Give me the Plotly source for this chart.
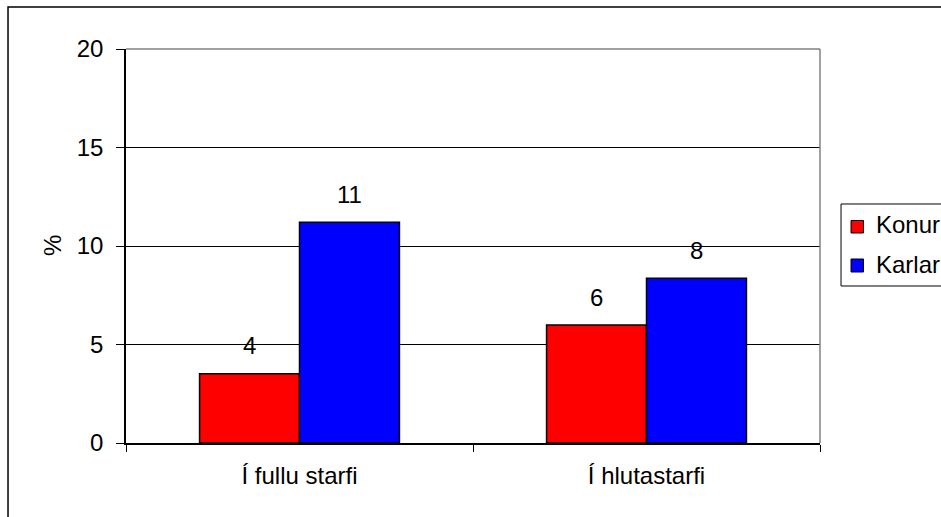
import plotly.graph_objects as go

categories = ["Í fullu starfi", "Í hlutastarfi"]
series_names = ["Konur", "Karlar"]
konur = [3.52, 5.99]
karlar = [11.2, 8.36]
colors = ["#FF0000", "#0000FF"]
y_ticks = [0, 5, 10, 15, 20]

FONT = "Liberation Sans, Arial, sans-serif"
FS = 24

fig = go.Figure()
for i, (name, vals) in enumerate(zip(series_names, [konur, karlar])):
    fig.add_trace(go.Bar(
        x=categories, y=vals, name=name,
        marker=dict(color=colors[i], line=dict(color="#000000", width=1.5)),
        showlegend=False,
    ))

annotations = []
for i, vals in enumerate([konur, karlar]):
    shift = -50 if i == 0 else 50
    for c, v in zip(categories, vals):
        annotations.append(dict(
            x=c, y=v, xref="x", yref="y", text=f"{v:.0f}", showarrow=False,
            xshift=shift, yshift=28, yanchor="middle",
            font=dict(family=FONT, size=FS, color="#000000"),
        ))
annotations.append(dict(
    x=-0.1066, y=0.5, xref="paper", yref="paper", text="%", showarrow=False,
    textangle=-90, font=dict(family=FONT, size=FS, color="#000000"),
    xanchor="center", yanchor="middle",
))

# manual legend (the reference legend runs off the right edge)
legend_sq_y = [(0.533, 0.5647), (0.434, 0.467)]
legend_txt_y = [0.5558, 0.4525]
shapes = [
    # outer chart border (extends past right and bottom)
    dict(type="rect", xref="paper", yref="paper", x0=-0.170, x1=1.5, y0=-0.5, y1=1.1066,
         line=dict(color="#000000", width=1.5), layer="below"),
    # plot area top and right border (gray)
    dict(type="line", xref="paper", yref="paper", x0=0, x1=1, y0=1, y1=1,
         line=dict(color="#808080", width=1.5), layer="above"),
    dict(type="line", xref="paper", yref="paper", x0=1, x1=1, y0=0, y1=1,
         line=dict(color="#808080", width=1.5), layer="above"),
    # legend box
    dict(type="rect", xref="paper", yref="paper", x0=1.0303, x1=1.4, y0=0.3985, y1=0.6066,
         line=dict(color="#000000", width=1), fillcolor="#FFFFFF", layer="above"),
]
for i, name in enumerate(series_names):
    y0, y1 = legend_sq_y[i]
    shapes.append(dict(type="rect", xref="paper", yref="paper", x0=1.0447, x1=1.0627,
                       y0=y0, y1=y1, line=dict(color="#000000", width=1),
                       fillcolor=colors[i], layer="above"))
    annotations.append(dict(
        x=1.0778, y=legend_txt_y[i], xref="paper", yref="paper", text=name,
        showarrow=False, xanchor="left", yanchor="middle",
        font=dict(family=FONT, size=FS, color="#000000"),
    ))

fig.update_layout(
    width=941, height=517,
    margin=dict(l=126, r=121, t=49, b=74),
    paper_bgcolor="#FFFFFF", plot_bgcolor="#FFFFFF",
    barmode="group", bargap=0.424, bargroupgap=0,
    font=dict(family=FONT, size=FS, color="#000000"),
    showlegend=False,
    annotations=annotations,
    shapes=shapes,
    xaxis=dict(
        type="category", showline=True, linecolor="#000000", linewidth=1.5,
        ticks="outside", tickson="boundaries", ticklen=7, tickcolor="#000000",
        ticklabelstandoff=10,
        showgrid=False, tickfont=dict(family=FONT, size=FS, color="#000000"),
    ),
    yaxis=dict(
        range=[0, 20], tickvals=y_ticks, ticktext=[str(t) for t in y_ticks],
        showline=True, linecolor="#000000", linewidth=1.5,
        ticks="outside", ticklen=8, tickcolor="#000000", ticklabelstandoff=8,
        showgrid=True, gridcolor="#000000", gridwidth=1,
        zeroline=False,
        tickfont=dict(family=FONT, size=FS, color="#000000"),
    ),
)

fig.write_html(
    "out.html",
    config={"displayModeBar": False},
    post_script="document.body.style.margin='0';document.body.style.overflow='hidden';",
)
